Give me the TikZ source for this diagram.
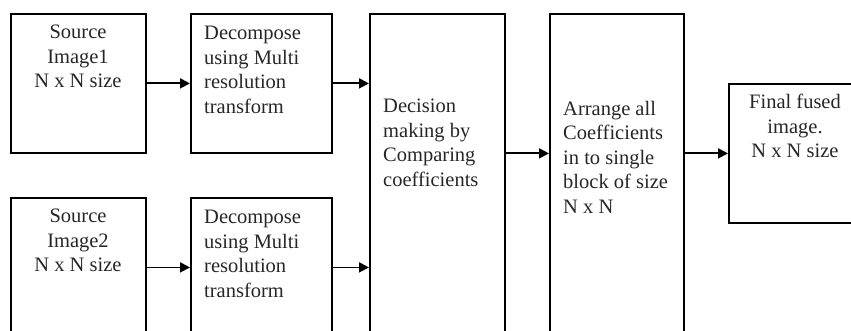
\documentclass[tikz,border=0pt]{standalone}
\usepackage{fontspec}
\setmainfont{Liberation Serif}
\usetikzlibrary{arrows.meta}
\begin{document}
\begin{tikzpicture}[x=1pt,y=-1pt,
  box/.style={draw, line width=1.8pt, inner sep=0pt, anchor=north west},
  txt/.style={inner sep=0pt, text=black!85, font=\fontsize{20.5}{24.5}\selectfont},
  arr/.style={line width=1.8pt, -{Triangle[length=10pt,width=10pt]}}]
\useasboundingbox (0,0) rectangle (851,331);
\clip (0,0) rectangle (851,331);
% boxes
\node[box, minimum width=135pt, minimum height=139pt] (b1) at (10,13) {};
\node[box, minimum width=141pt, minimum height=139pt] (b2) at (190,13) {};
\node[box, minimum width=135pt, minimum height=139pt] (b1b) at (10,197) {};
\node[box, minimum width=141pt, minimum height=139pt] (b2b) at (190,197) {};
\node[box, minimum width=135pt, minimum height=332pt] (b3) at (369,13) {};
\node[box, minimum width=134pt, minimum height=332pt] (b4) at (549,13) {};
\node[box, minimum width=134pt, minimum height=139pt] (b5) at (728,83) {};
% texts
\node[txt, anchor=north, align=center] (t1) at (78,25) {Source\\Image1\\N x N size};
\node[txt, anchor=north west, align=left] (t2) at (204,26) {Decompose\\using Multi\\resolution\\transform};
\node[txt, anchor=north, align=center] (t1b) at (78,209) {Source\\Image2\\N x N size};
\node[txt, anchor=north west, align=left] (t2b) at (204,210) {Decompose\\using Multi\\resolution\\transform};
\node[txt, anchor=north west, align=left] (t3) at (383,99) {Decision\\making by\\Comparing\\coefficients};
\node[txt, anchor=north west, align=left] (t4) at (563,101) {Arrange all\\Coefficients\\in to single\\block of size\\N x N};
\node[txt, anchor=north, align=center] (t5) at (795,94) {Final fused\\image.\\N x N size};
% arrows
\draw[arr] (b1.east) -- (b2.west);
\draw[arr] (b2.east) -- (b3.west |- b2.east);
\draw[arr] (b1b.east) -- (b2b.west);
\draw[arr] (b2b.east) -- (b3.west |- b2b.east);
\draw[arr] (b3.east |- b5.west) -- (b4.west |- b5.west);
\draw[arr] (b4.east |- b5.west) -- (b5.west);
\end{tikzpicture}
\end{document}
